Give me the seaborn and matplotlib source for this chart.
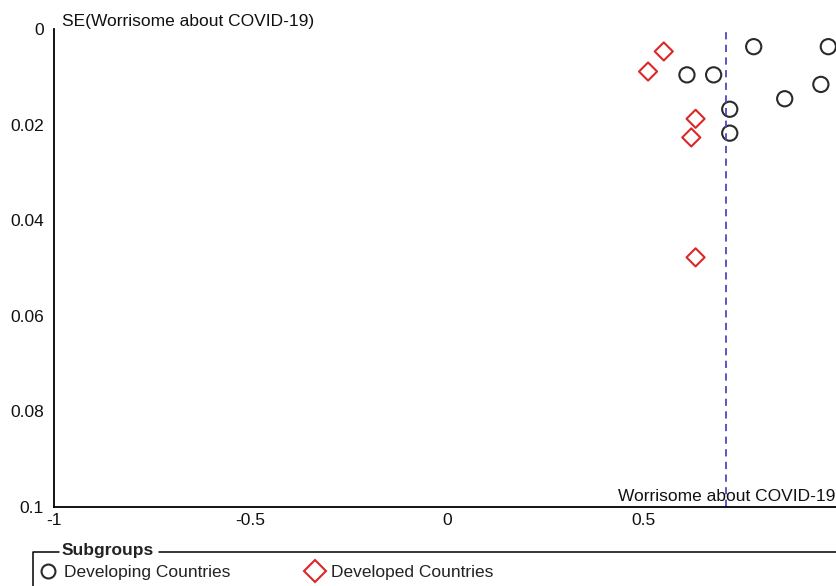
import matplotlib
matplotlib.use("Agg")
import matplotlib.pyplot as plt
from matplotlib.lines import Line2D
import seaborn as sns
import pandas as pd

# Study estimates (effect) and their standard errors, by subgroup
developing_effect = [0.781, 0.971, 0.611, 0.679, 0.952, 0.860, 0.720, 0.720]
developing_se = [0.0037, 0.0037, 0.0096, 0.0096, 0.0116, 0.0146, 0.0168, 0.0218]
developed_effect = [0.552, 0.512, 0.633, 0.622, 0.633]
developed_se = [0.0047, 0.0089, 0.0188, 0.0227, 0.0478]
pooled_effect = 0.711

subgroups = ["Developing Countries", "Developed Countries"]
x_ticks = [-1, -0.5, 0, 0.5, 1]
x_tick_labels = ["-1", "-0.5", "0", "0.5", "1"]
y_ticks = [0, 0.02, 0.04, 0.06, 0.08, 0.1]
y_tick_labels = ["0", "0.02", "0.04", "0.06", "0.08", "0.1"]

df = pd.DataFrame({
    "effect": developing_effect + developed_effect,
    "se": developing_se + developed_se,
    "group": [subgroups[0]] * len(developing_effect) + [subgroups[1]] * len(developed_effect),
})

sns.set_theme(style="white")
plt.rcParams["font.family"] = ["Liberation Sans", "DejaVu Sans"]
plt.rcParams["axes.unicode_minus"] = False

FS = 12.5
W, H = 836, 586
fig = plt.figure(figsize=(W / 100, H / 100), dpi=100)
ax_left, ax_right, ax_top, ax_bottom = 54.3, 839.7, 29.0, 506.7
ax = fig.add_axes([ax_left / W, 1 - ax_bottom / H, (ax_right - ax_left) / W, (ax_bottom - ax_top) / H])

palette = {subgroups[0]: "#2a2a2a", subgroups[1]: "#dd2626"}
markers = {subgroups[0]: "o", subgroups[1]: "D"}

for g in subgroups:
    sub = df[df["group"] == g]
    sns.scatterplot(data=sub, x="effect", y="se", ax=ax, marker=markers[g],
                    s=120 if g == subgroups[0] else 85,
                    facecolor="none", edgecolor=palette[g], linewidth=1.5,
                    legend=False, clip_on=False)

ax.axvline(pooled_effect, color="#4a4ac0", linestyle=(0, (4, 3)), linewidth=1.3)

ax.set_xlim(-1, 1)
ax.set_ylim(0.1, 0)
ax.set_xticks(x_ticks, x_tick_labels)
ax.set_yticks(y_ticks, y_tick_labels)
ax.set_xlabel("")
ax.set_ylabel("")
for side in ["top", "right"]:
    ax.spines[side].set_visible(False)
for side in ["left", "bottom"]:
    ax.spines[side].set_color("black")
    ax.spines[side].set_linewidth(1.3)
ax.tick_params(axis="both", direction="inout", length=9, width=1.1, color="black",
               labelsize=FS, labelcolor="#111111", pad=0)
ax.tick_params(axis="y", pad=3)

ax.text(8 / (ax_right - ax_left), 1.0, "SE(Worrisome about COVID-19)", transform=ax.transAxes,
        ha="left", va="bottom", fontsize=FS, color="#111111")
ax.text((835 - ax_left) / (ax_right - ax_left), 0.006, "Worrisome about COVID-19",
        transform=ax.transAxes, ha="right", va="bottom", fontsize=FS, color="#111111")

# Subgroup legend in a fieldset-style frame
fx = lambda px: px / W
fy = lambda py: 1 - py / H
fig.add_artist(Line2D([fx(33), fx(33), fx(59)], [fy(590), fy(552), fy(552)], color="black", lw=1.1))
fig.add_artist(Line2D([fx(159), fx(840)], [fy(552), fy(552)], color="black", lw=1.1))
fig.text(fx(62), fy(551), "Subgroups", ha="left", va="center", fontsize=FS,
         fontweight="bold", color="#222222")

handles = [
    Line2D([], [], marker="o", linestyle="none", markerfacecolor="none",
           markeredgecolor=palette[subgroups[0]], markersize=10, markeredgewidth=1.5),
    Line2D([], [], marker="D", linestyle="none", markerfacecolor="none",
           markeredgecolor=palette[subgroups[1]], markersize=11, markeredgewidth=1.5),
]
leg = fig.legend(handles, subgroups, loc="center left", bbox_to_anchor=(fx(39), fy(572)),
                 ncol=2, frameon=False, fontsize=FS, handlelength=1.0, handletextpad=0.45,
                 columnspacing=4.35, borderpad=0, borderaxespad=0)
for t in leg.get_texts():
    t.set_color("#222222")

fig.savefig("out.png", dpi=100)
